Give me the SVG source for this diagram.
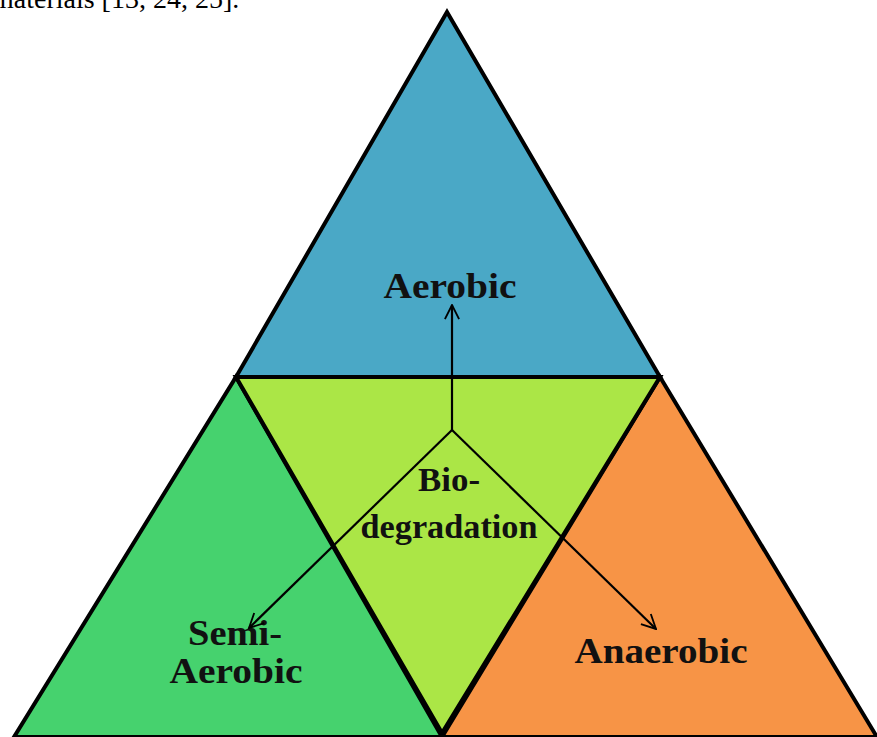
<svg xmlns="http://www.w3.org/2000/svg" width="877" height="737" viewBox="0 0 877 737">
<style>
.tri{stroke:#000;stroke-width:4;stroke-linejoin:miter}
.lbl{font-family:"Liberation Serif","Times New Roman",serif;font-weight:bold;fill:#111;text-anchor:middle}
.arr{stroke:#000;stroke-width:2.2;fill:none}
</style>
<defs>
<marker id="ah" viewBox="0 0 12 12" refX="11" refY="6" markerWidth="17" markerHeight="17" orient="auto" markerUnits="userSpaceOnUse">
<path d="M1,1 L11,6 L1,11" fill="none" stroke="#000" stroke-width="1.3"/>
</marker>
</defs>
<rect width="877" height="737" fill="#fff"/>
<text x="-8" y="8" font-family="'Liberation Serif','Times New Roman',serif" font-size="28" fill="#000">materials [13, 24, 25].</text>
<g id="aerobic">
<polygon class="tri" points="447,12 660,377 236,377" fill="#4aa8c6"/>
<text class="lbl" x="450" y="298" font-size="36" textLength="133" lengthAdjust="spacingAndGlyphs">Aerobic</text>
</g>
<g id="semi-aerobic">
<polygon class="tri" points="236,377 442,737 14,737" fill="#46d26e"/>
<text class="lbl" x="235" y="645" font-size="36" textLength="94" lengthAdjust="spacingAndGlyphs">Semi-</text>
<text class="lbl" x="236" y="683" font-size="36" textLength="133" lengthAdjust="spacingAndGlyphs">Aerobic</text>
</g>
<g id="anaerobic">
<polygon class="tri" points="660,377 877,737 442,737" fill="#f79446"/>
<text class="lbl" x="661" y="663" font-size="36" textLength="173" lengthAdjust="spacingAndGlyphs">Anaerobic</text>
</g>
<g id="biodegradation">
<polygon class="tri" points="236,377 660,377 442,733" fill="#abe646"/>
<text class="lbl" x="449" y="491" font-size="34" textLength="62" lengthAdjust="spacingAndGlyphs">Bio-</text>
<text class="lbl" x="449" y="538" font-size="34" textLength="177" lengthAdjust="spacingAndGlyphs">degradation</text>
</g>
<g id="connectors">
<line class="arr" x1="452" y1="430" x2="452" y2="305" marker-end="url(#ah)"/>
<line class="arr" x1="452" y1="430" x2="249" y2="628" marker-end="url(#ah)"/>
<line class="arr" x1="452" y1="430" x2="656" y2="629" marker-end="url(#ah)"/>
</g>
</svg>
